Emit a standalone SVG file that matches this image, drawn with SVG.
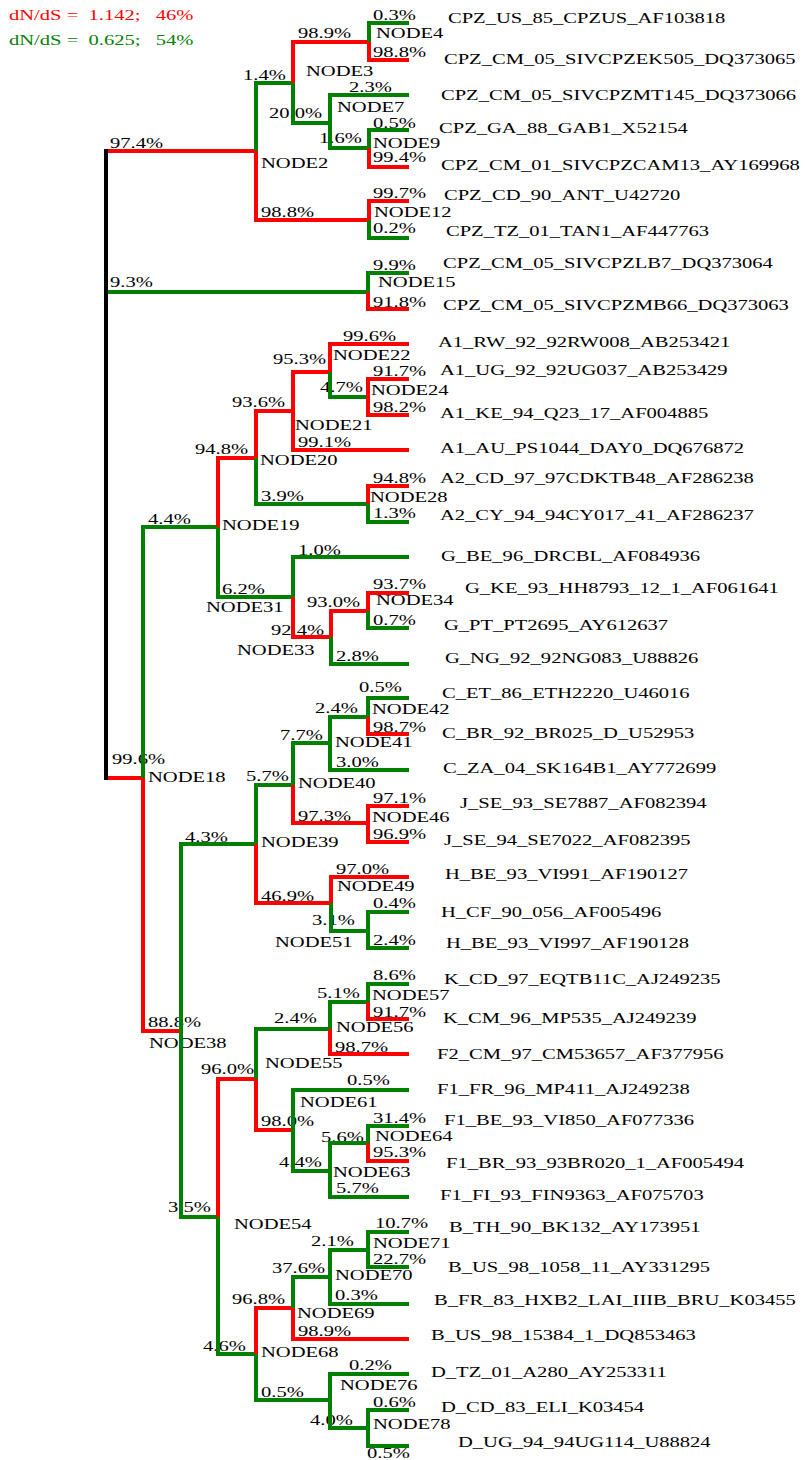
<svg xmlns="http://www.w3.org/2000/svg" width="805" height="1460" viewBox="0 0 805 1460">
<style>
text { font-family: "Liberation Serif", "Times New Roman", serif; font-size: 15px; fill: #000; transform-box: fill-box; transform-origin: 0 0; transform: scaleX(1.37); }
.lr { fill: #ff0000; }
.lg { fill: #008000; }
path { fill: none; stroke-width: 4; stroke-linejoin: miter; stroke-linecap: butt; }
.r { stroke: #ff0000; }
.g { stroke: #008000; }
.k { stroke: #000000; }
</style>
<rect width="805" height="1460" fill="#ffffff"/>
<g id="legend">
<text class="lr" x="9" y="20" xml:space="preserve">dN/dS =  1.142;   46%</text>
<text class="lg" x="9" y="45" xml:space="preserve">dN/dS =  0.625;   54%</text>
</g>
<g id="nodes">
<g id="NODE2"><text x="261" y="168">NODE2</text></g>
<g id="NODE3"><text x="306" y="76">NODE3</text></g>
<g id="NODE4"><text x="376" y="38">NODE4</text></g>
<g id="NODE7"><text x="337" y="112">NODE7</text></g>
<g id="NODE9"><text x="373" y="148">NODE9</text></g>
<g id="NODE12"><text x="374" y="217">NODE12</text></g>
<g id="NODE15"><text x="378" y="287">NODE15</text></g>
<g id="NODE18"><text x="148" y="782">NODE18</text></g>
<g id="NODE19"><text x="222" y="530">NODE19</text></g>
<g id="NODE20"><text x="260" y="465">NODE20</text></g>
<g id="NODE21"><text x="295" y="430">NODE21</text></g>
<g id="NODE22"><text x="333" y="360">NODE22</text></g>
<g id="NODE24"><text x="371" y="395">NODE24</text></g>
<g id="NODE28"><text x="370" y="502">NODE28</text></g>
<g id="NODE31"><text x="206" y="612">NODE31</text></g>
<g id="NODE33"><text x="237" y="655">NODE33</text></g>
<g id="NODE34"><text x="376" y="605">NODE34</text></g>
<g id="NODE38"><text x="149" y="1048">NODE38</text></g>
<g id="NODE39"><text x="261" y="847">NODE39</text></g>
<g id="NODE40"><text x="298" y="788">NODE40</text></g>
<g id="NODE41"><text x="335" y="747">NODE41</text></g>
<g id="NODE42"><text x="372" y="714">NODE42</text></g>
<g id="NODE46"><text x="372" y="822">NODE46</text></g>
<g id="NODE49"><text x="337" y="891">NODE49</text></g>
<g id="NODE51"><text x="275" y="947">NODE51</text></g>
<g id="NODE54"><text x="234" y="1229">NODE54</text></g>
<g id="NODE55"><text x="265" y="1068">NODE55</text></g>
<g id="NODE56"><text x="336" y="1032">NODE56</text></g>
<g id="NODE57"><text x="372" y="1000">NODE57</text></g>
<g id="NODE61"><text x="300" y="1107">NODE61</text></g>
<g id="NODE63"><text x="333" y="1177">NODE63</text></g>
<g id="NODE64"><text x="375" y="1141">NODE64</text></g>
<g id="NODE68"><text x="261" y="1357">NODE68</text></g>
<g id="NODE69"><text x="297" y="1318">NODE69</text></g>
<g id="NODE70"><text x="335" y="1280">NODE70</text></g>
<g id="NODE71"><text x="373" y="1248">NODE71</text></g>
<g id="NODE76"><text x="340" y="1390">NODE76</text></g>
<g id="NODE78"><text x="373" y="1429">NODE78</text></g>
<g id="leaf-CPZ_US_85_CPZUS_AF103818"><text x="448" y="23">CPZ_US_85_CPZUS_AF103818</text></g>
<g id="leaf-CPZ_CM_05_SIVCPZEK505_DQ373065"><text x="444" y="64">CPZ_CM_05_SIVCPZEK505_DQ373065</text></g>
<g id="leaf-CPZ_CM_05_SIVCPZMT145_DQ373066"><text x="441" y="100">CPZ_CM_05_SIVCPZMT145_DQ373066</text></g>
<g id="leaf-CPZ_GA_88_GAB1_X52154"><text x="439" y="133">CPZ_GA_88_GAB1_X52154</text></g>
<g id="leaf-CPZ_CM_01_SIVCPZCAM13_AY169968"><text x="441" y="170">CPZ_CM_01_SIVCPZCAM13_AY169968</text></g>
<g id="leaf-CPZ_CD_90_ANT_U42720"><text x="444" y="200">CPZ_CD_90_ANT_U42720</text></g>
<g id="leaf-CPZ_TZ_01_TAN1_AF447763"><text x="446" y="236">CPZ_TZ_01_TAN1_AF447763</text></g>
<g id="leaf-CPZ_CM_05_SIVCPZLB7_DQ373064"><text x="443" y="268">CPZ_CM_05_SIVCPZLB7_DQ373064</text></g>
<g id="leaf-CPZ_CM_05_SIVCPZMB66_DQ373063"><text x="443" y="310">CPZ_CM_05_SIVCPZMB66_DQ373063</text></g>
<g id="leaf-A1_RW_92_92RW008_AB253421"><text x="438" y="347">A1_RW_92_92RW008_AB253421</text></g>
<g id="leaf-A1_UG_92_92UG037_AB253429"><text x="440" y="375">A1_UG_92_92UG037_AB253429</text></g>
<g id="leaf-A1_KE_94_Q23_17_AF004885"><text x="440" y="418">A1_KE_94_Q23_17_AF004885</text></g>
<g id="leaf-A1_AU_PS1044_DAY0_DQ676872"><text x="440" y="453">A1_AU_PS1044_DAY0_DQ676872</text></g>
<g id="leaf-A2_CD_97_97CDKTB48_AF286238"><text x="440" y="483">A2_CD_97_97CDKTB48_AF286238</text></g>
<g id="leaf-A2_CY_94_94CY017_41_AF286237"><text x="440" y="520">A2_CY_94_94CY017_41_AF286237</text></g>
<g id="leaf-G_BE_96_DRCBL_AF084936"><text x="441" y="561">G_BE_96_DRCBL_AF084936</text></g>
<g id="leaf-G_KE_93_HH8793_12_1_AF061641"><text x="465" y="593">G_KE_93_HH8793_12_1_AF061641</text></g>
<g id="leaf-G_PT_PT2695_AY612637"><text x="444" y="630">G_PT_PT2695_AY612637</text></g>
<g id="leaf-G_NG_92_92NG083_U88826"><text x="445" y="663">G_NG_92_92NG083_U88826</text></g>
<g id="leaf-C_ET_86_ETH2220_U46016"><text x="442" y="698">C_ET_86_ETH2220_U46016</text></g>
<g id="leaf-C_BR_92_BR025_D_U52953"><text x="442" y="738">C_BR_92_BR025_D_U52953</text></g>
<g id="leaf-C_ZA_04_SK164B1_AY772699"><text x="443" y="773">C_ZA_04_SK164B1_AY772699</text></g>
<g id="leaf-J_SE_93_SE7887_AF082394"><text x="460" y="808">J_SE_93_SE7887_AF082394</text></g>
<g id="leaf-J_SE_94_SE7022_AF082395"><text x="444" y="845">J_SE_94_SE7022_AF082395</text></g>
<g id="leaf-H_BE_93_VI991_AF190127"><text x="445" y="879">H_BE_93_VI991_AF190127</text></g>
<g id="leaf-H_CF_90_056_AF005496"><text x="441" y="917">H_CF_90_056_AF005496</text></g>
<g id="leaf-H_BE_93_VI997_AF190128"><text x="446" y="948">H_BE_93_VI997_AF190128</text></g>
<g id="leaf-K_CD_97_EQTB11C_AJ249235"><text x="444" y="984">K_CD_97_EQTB11C_AJ249235</text></g>
<g id="leaf-K_CM_96_MP535_AJ249239"><text x="443" y="1023">K_CM_96_MP535_AJ249239</text></g>
<g id="leaf-F2_CM_97_CM53657_AF377956"><text x="437" y="1059">F2_CM_97_CM53657_AF377956</text></g>
<g id="leaf-F1_FR_96_MP411_AJ249238"><text x="437" y="1094">F1_FR_96_MP411_AJ249238</text></g>
<g id="leaf-F1_BE_93_VI850_AF077336"><text x="444" y="1125">F1_BE_93_VI850_AF077336</text></g>
<g id="leaf-F1_BR_93_93BR020_1_AF005494"><text x="446" y="1168">F1_BR_93_93BR020_1_AF005494</text></g>
<g id="leaf-F1_FI_93_FIN9363_AF075703"><text x="440" y="1200">F1_FI_93_FIN9363_AF075703</text></g>
<g id="leaf-B_TH_90_BK132_AY173951"><text x="449" y="1232">B_TH_90_BK132_AY173951</text></g>
<g id="leaf-B_US_98_1058_11_AY331295"><text x="448" y="1272">B_US_98_1058_11_AY331295</text></g>
<g id="leaf-B_FR_83_HXB2_LAI_IIIB_BRU_K03455"><text x="434" y="1305">B_FR_83_HXB2_LAI_IIIB_BRU_K03455</text></g>
<g id="leaf-B_US_98_15384_1_DQ853463"><text x="431" y="1340">B_US_98_15384_1_DQ853463</text></g>
<g id="leaf-D_TZ_01_A280_AY253311"><text x="431" y="1377">D_TZ_01_A280_AY253311</text></g>
<g id="leaf-D_CD_83_ELI_K03454"><text x="441" y="1412">D_CD_83_ELI_K03454</text></g>
<g id="leaf-D_UG_94_94UG114_U88824"><text x="458" y="1447">D_UG_94_94UG114_U88824</text></g>
</g>
<g id="connectors">
<g id="edge-labels">
<text x="110" y="148">97.4%</text>
<text x="243" y="80">1.4%</text>
<text x="298" y="38">98.9%</text>
<text x="373" y="20">0.3%</text>
<text x="373" y="57">98.8%</text>
<text x="269" y="118">20.0%</text>
<text x="349" y="92">2.3%</text>
<text x="319" y="143">1.6%</text>
<text x="373" y="128">0.5%</text>
<text x="373" y="162">99.4%</text>
<text x="261" y="217">98.8%</text>
<text x="373" y="198">99.7%</text>
<text x="373" y="233">0.2%</text>
<text x="110" y="287">9.3%</text>
<text x="373" y="270">9.9%</text>
<text x="373" y="307">91.8%</text>
<text x="112" y="764">99.6%</text>
<text x="148" y="524">4.4%</text>
<text x="195" y="454">94.8%</text>
<text x="232" y="407">93.6%</text>
<text x="273" y="364">95.3%</text>
<text x="343" y="341">99.6%</text>
<text x="320" y="392">4.7%</text>
<text x="373" y="376">91.7%</text>
<text x="373" y="412">98.2%</text>
<text x="298" y="447">99.1%</text>
<text x="261" y="501">3.9%</text>
<text x="373" y="483">94.8%</text>
<text x="373" y="518">1.3%</text>
<text x="222" y="594">6.2%</text>
<text x="298" y="555">1.0%</text>
<text x="271" y="635">92.4%</text>
<text x="307" y="607">93.0%</text>
<text x="373" y="589">93.7%</text>
<text x="373" y="625">0.7%</text>
<text x="336" y="661">2.8%</text>
<text x="148" y="1027">88.8%</text>
<text x="185" y="842">4.3%</text>
<text x="246" y="781">5.7%</text>
<text x="280" y="740">7.7%</text>
<text x="315" y="713">2.4%</text>
<text x="359" y="692">0.5%</text>
<text x="373" y="732">98.7%</text>
<text x="336" y="767">3.0%</text>
<text x="298" y="821">97.3%</text>
<text x="373" y="803">97.1%</text>
<text x="373" y="839">96.9%</text>
<text x="261" y="901">46.9%</text>
<text x="336" y="874">97.0%</text>
<text x="312" y="925">3.1%</text>
<text x="373" y="908">0.4%</text>
<text x="373" y="945">2.4%</text>
<text x="168" y="1212">3.5%</text>
<text x="201" y="1074">96.0%</text>
<text x="274" y="1023">2.4%</text>
<text x="317" y="998">5.1%</text>
<text x="373" y="980">8.6%</text>
<text x="373" y="1017">91.7%</text>
<text x="335" y="1052">98.7%</text>
<text x="261" y="1126">98.0%</text>
<text x="347" y="1085">0.5%</text>
<text x="279" y="1167">4.4%</text>
<text x="321" y="1142">5.6%</text>
<text x="373" y="1123">31.4%</text>
<text x="373" y="1157">95.3%</text>
<text x="336" y="1193">5.7%</text>
<text x="203" y="1351">4.6%</text>
<text x="232" y="1304">96.8%</text>
<text x="272" y="1273">37.6%</text>
<text x="311" y="1246">2.1%</text>
<text x="375" y="1228">10.7%</text>
<text x="373" y="1264">22.7%</text>
<text x="335" y="1300">0.3%</text>
<text x="298" y="1336">98.9%</text>
<text x="261" y="1397">0.5%</text>
<text x="349" y="1370">0.2%</text>
<text x="310" y="1425">4.0%</text>
<text x="373" y="1407">0.6%</text>
<text x="367" y="1458">0.5%</text>
</g>
<g id="edges">
<path class="r" d="M106,151 H256"/>
<path class="g" d="M106,292 H368"/>
<path class="r" d="M106,778 H143"/>
<path class="g" d="M256,151 V83 H293"/>
<path class="r" d="M256,151 V220 H369"/>
<path class="r" d="M293,83 V42 H369"/>
<path class="g" d="M293,83 V123 H330"/>
<path class="g" d="M369,42 V23 H409"/>
<path class="r" d="M369,42 V60 H409"/>
<path class="g" d="M330,123 V95 H409"/>
<path class="g" d="M330,123 V148 H369"/>
<path class="g" d="M369,148 V130 H409"/>
<path class="r" d="M369,148 V167 H409"/>
<path class="r" d="M369,220 V201 H409"/>
<path class="g" d="M369,220 V238 H409"/>
<path class="g" d="M368,292 V273 H409"/>
<path class="r" d="M368,292 V309 H409"/>
<path class="g" d="M143,778 V527 H218"/>
<path class="r" d="M143,778 V1031 H181"/>
<path class="r" d="M218,527 V458 H256"/>
<path class="g" d="M218,527 V597 H293"/>
<path class="r" d="M256,458 V411 H293"/>
<path class="g" d="M256,458 V504 H368"/>
<path class="r" d="M293,411 V372 H330"/>
<path class="r" d="M293,411 V450 H409"/>
<path class="r" d="M330,372 V344 H409"/>
<path class="g" d="M330,372 V397 H368"/>
<path class="r" d="M368,397 V379 H409"/>
<path class="r" d="M368,397 V415 H409"/>
<path class="r" d="M368,504 V486 H409"/>
<path class="g" d="M368,504 V522 H409"/>
<path class="g" d="M293,597 V557 H409"/>
<path class="r" d="M293,597 V637 H331"/>
<path class="r" d="M331,637 V611 H368"/>
<path class="g" d="M331,637 V664 H409"/>
<path class="r" d="M368,611 V593 H409"/>
<path class="g" d="M368,611 V628 H409"/>
<path class="g" d="M181,1031 V844 H256"/>
<path class="g" d="M181,1031 V1217 H218"/>
<path class="g" d="M256,844 V785 H293"/>
<path class="r" d="M256,844 V903 H331"/>
<path class="g" d="M293,785 V743 H330"/>
<path class="r" d="M293,785 V823 H368"/>
<path class="g" d="M330,743 V717 H368"/>
<path class="g" d="M330,743 V770 H409"/>
<path class="g" d="M368,717 V698 H409"/>
<path class="r" d="M368,717 V734 H409"/>
<path class="r" d="M368,823 V806 H409"/>
<path class="r" d="M368,823 V842 H409"/>
<path class="r" d="M331,903 V877 H409"/>
<path class="g" d="M331,903 V931 H368"/>
<path class="g" d="M368,931 V912 H409"/>
<path class="g" d="M368,931 V948 H409"/>
<path class="r" d="M218,1217 V1079 H256"/>
<path class="g" d="M218,1217 V1354 H256"/>
<path class="g" d="M256,1079 V1029 H330"/>
<path class="r" d="M256,1079 V1130 H293"/>
<path class="g" d="M330,1029 V1002 H368"/>
<path class="r" d="M330,1029 V1054 H409"/>
<path class="g" d="M368,1002 V984 H409"/>
<path class="r" d="M368,1002 V1019 H409"/>
<path class="g" d="M293,1130 V1090 H409"/>
<path class="g" d="M293,1130 V1171 H330"/>
<path class="g" d="M330,1171 V1143 H368"/>
<path class="g" d="M330,1171 V1197 H409"/>
<path class="g" d="M368,1143 V1126 H409"/>
<path class="r" d="M368,1143 V1161 H409"/>
<path class="r" d="M256,1354 V1308 H293"/>
<path class="g" d="M256,1354 V1400 H330"/>
<path class="g" d="M293,1308 V1277 H330"/>
<path class="r" d="M293,1308 V1339 H409"/>
<path class="g" d="M330,1277 V1250 H368"/>
<path class="g" d="M330,1277 V1304 H409"/>
<path class="g" d="M368,1250 V1232 H409"/>
<path class="g" d="M368,1250 V1267 H409"/>
<path class="g" d="M330,1400 V1374 H409"/>
<path class="g" d="M330,1400 V1428 H368"/>
<path class="g" d="M368,1428 V1410 H409"/>
<path class="g" d="M368,1428 V1446 H409"/>
<path class="k" d="M106,149 V780"/>
</g>
</g>
</svg>
